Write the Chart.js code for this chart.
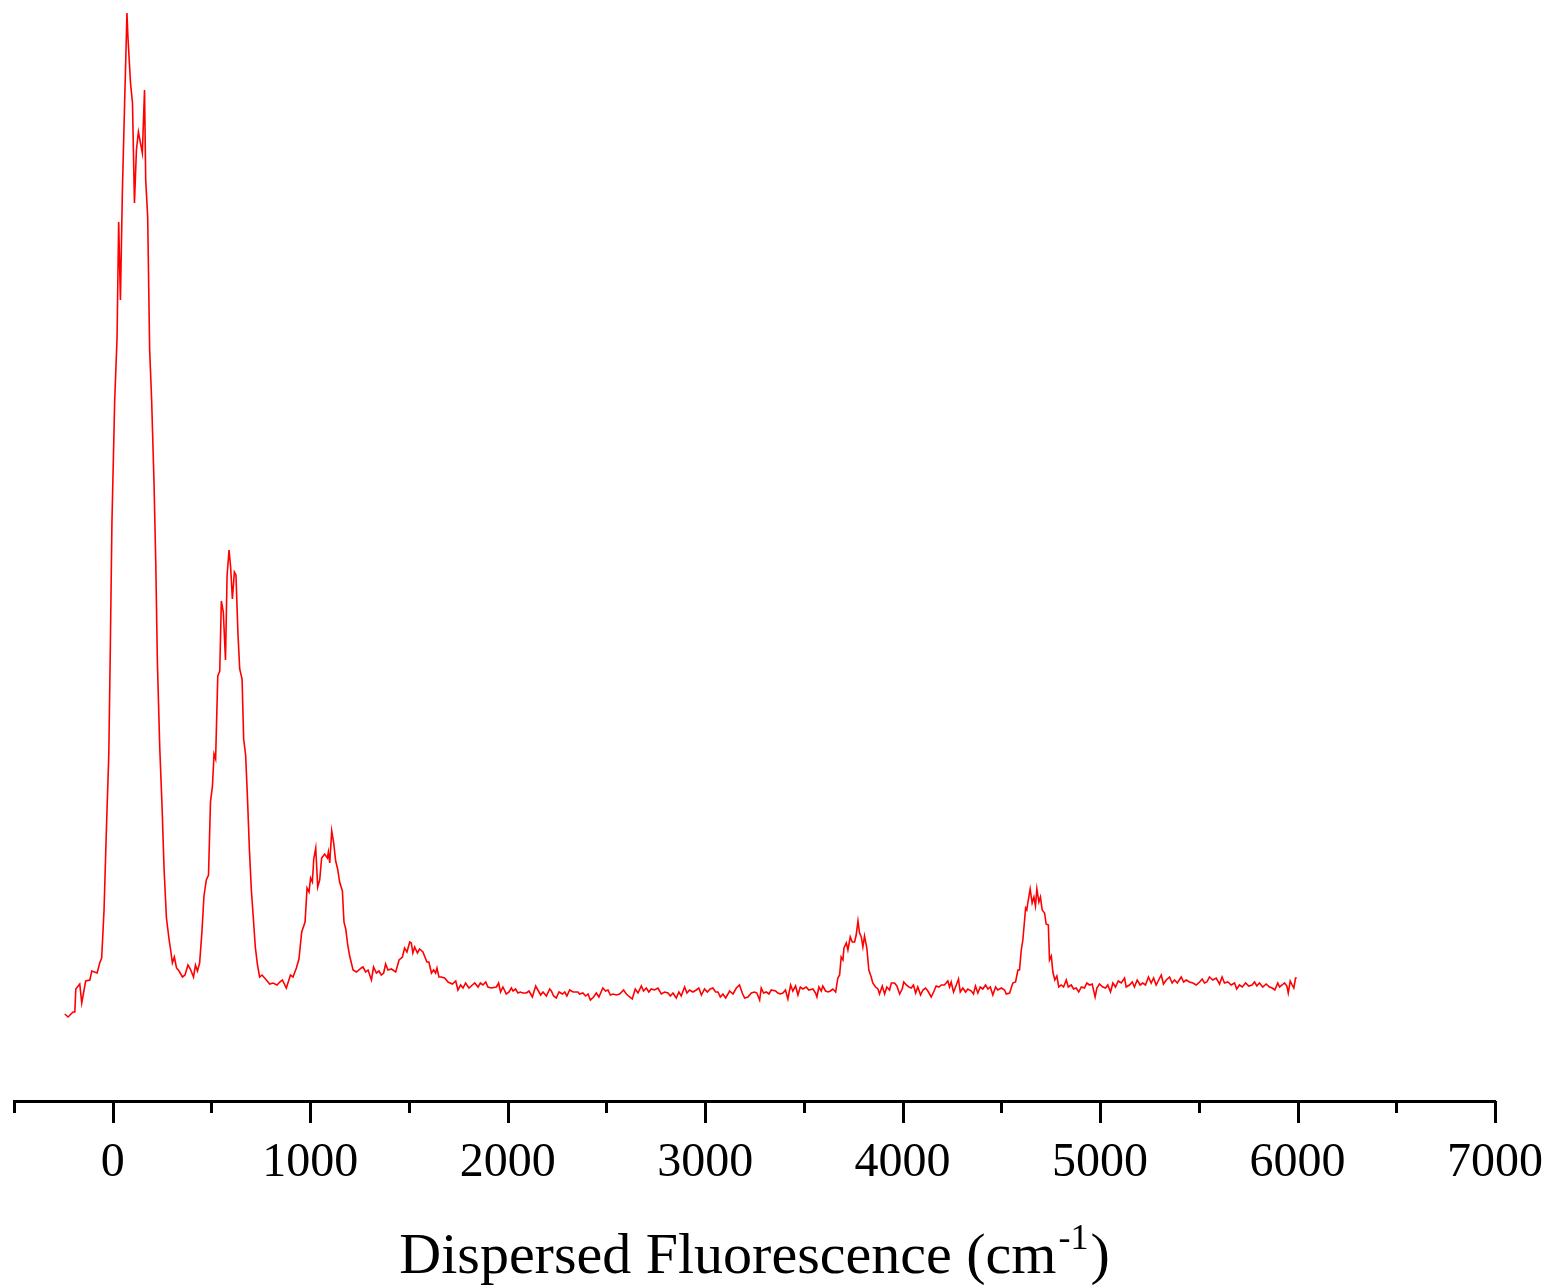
<!DOCTYPE html>
<html>
<head>
<meta charset="utf-8">
<script src="https://cdn.jsdelivr.net/npm/chart.js@4.4.1/dist/chart.umd.min.js"></script>
<style>
  html, body { margin: 0; padding: 0; background: #fff; }
  canvas { display: block; }
</style>
</head>
<body>
<canvas id="myChart" width="1551" height="1285"></canvas>
<script>
// wavenumber shift (cm-1) and fluorescence intensity (arb. units)
const wavenumber = [
  -243, -226, -201, -192, -187, -167, -157, -137, -116, -106, -79, -66, -56, -44, -32, -20, -12, -4,
  10, 22, 30, 39, 49, 61, 72, 77, 90, 100, 110, 120, 130, 150, 161, 167, 177, 187, 197,
  209, 218, 226, 238, 250, 260, 272, 285, 294, 302, 312, 323, 336, 353, 366, 381, 393, 409, 419, 429, 440,
  452, 462, 474, 485, 495, 505, 513, 521, 532, 542, 550, 560, 571, 579, 589, 597, 606, 616, 624, 634,
  643, 655, 663, 673, 682, 692, 702, 712, 722, 733, 744, 756, 778, 795, 812, 832, 846, 859, 879, 900,
  913, 930, 943, 957, 974, 984, 994,
  1002, 1011, 1018, 1028, 1038, 1048, 1058, 1073, 1087, 1092, 1099, 1109, 1119, 1129, 1139, 1149, 1163, 1171, 1180, 1190, 1200,
  1217, 1234, 1259, 1267, 1281, 1293, 1310, 1321, 1335, 1348, 1360, 1372, 1382, 1394, 1411, 1433, 1450, 1467, 1478, 1490,
  1504, 1512, 1520, 1529, 1543, 1554, 1571, 1591, 1601, 1614, 1625, 1635, 1642, 1652, 1664, 1681, 1698, 1720, 1737, 1748,
  1762, 1774, 1787, 1804, 1821, 1833, 1850, 1862, 1875, 1889, 1900, 1917, 1943, 1954, 1964, 1976, 1993,
  2007, 2019, 2027, 2040, 2052, 2064, 2077, 2095, 2108, 2125, 2142, 2153, 2167, 2179, 2196, 2213, 2221, 2233, 2246, 2260,
  2277, 2289, 2300, 2314, 2331, 2356, 2364, 2381, 2395, 2407, 2419, 2435, 2449, 2462, 2482, 2496, 2508, 2520, 2533, 2550,
  2567, 2587, 2601, 2618, 2631, 2646, 2660, 2677, 2688, 2702, 2715, 2727, 2744, 2761, 2778, 2795, 2812, 2824, 2837, 2854,
  2867, 2879, 2896, 2908, 2921, 2938, 2955, 2968, 2981, 2997,
  3011, 3026, 3039, 3053, 3065, 3077, 3090, 3104, 3124, 3141, 3158, 3174, 3188, 3200, 3217, 3234, 3250, 3262, 3276, 3284,
  3296, 3310, 3323, 3335, 3357, 3368, 3381, 3394, 3407, 3419, 3433, 3444, 3458, 3470, 3482, 3495, 3512, 3525, 3546, 3559,
  3566, 3576, 3588, 3596, 3610, 3622, 3634, 3647, 3661, 3672, 3681, 3689, 3698, 3703, 3715, 3723, 3735, 3745, 3757, 3765,
  3774, 3782, 3791, 3799, 3807, 3819, 3829, 3841, 3849, 3863, 3875, 3883, 3897, 3909, 3920, 3934, 3943, 3959, 3971, 3985,
  3998,
  4006, 4019, 4032, 4044, 4055, 4066, 4077, 4091, 4103, 4116, 4128, 4145, 4157, 4170, 4184, 4196, 4212, 4229, 4238, 4246,
  4258, 4272, 4283, 4292, 4305, 4319, 4330, 4348, 4359, 4369, 4381, 4393, 4406, 4420, 4432, 4444, 4457, 4471, 4482, 4500,
  4516, 4525, 4542, 4558, 4572, 4584, 4592, 4601, 4609, 4623, 4629, 4634, 4646, 4656, 4665, 4673, 4680, 4690, 4698, 4707,
  4719, 4727, 4738, 4744, 4753, 4761, 4771, 4781, 4791, 4803, 4815, 4829, 4839, 4854, 4866, 4879, 4892, 4905, 4921, 4933,
  4947, 4960, 4975, 4984, 4997,
  5014, 5028, 5039, 5053, 5065, 5078, 5092, 5107, 5124, 5132, 5149, 5163, 5174, 5188, 5203, 5216, 5230, 5245, 5259, 5271,
  5284, 5297, 5310, 5321, 5335, 5352, 5365, 5377, 5391, 5411, 5423, 5436, 5453, 5470, 5487, 5504, 5517, 5529, 5541, 5554,
  5571, 5588, 5605, 5618, 5630, 5647, 5664, 5681, 5692, 5706, 5720, 5737, 5753, 5770, 5782, 5794, 5807, 5824, 5841, 5858,
  5872, 5885, 5900, 5909, 5922, 5934, 5946, 5953, 5963, 5973, 5981, 5990, 5996
];

const intensity = [
  87, 84, 89, 89, 112, 117, 98, 120, 121, 130, 128, 138, 143, 191, 272, 346, 456, 579,
  701, 764, 879, 801, 911, 1004, 1088, 1064, 1018, 998, 898, 951, 969, 948, 1011, 921, 884, 751, 701,
  619, 538, 440, 354, 293, 232, 183, 162, 150, 138, 144, 133, 130, 124, 126, 136, 132, 124, 136, 130, 138,
  170, 205, 221, 226, 299, 315, 347, 342, 425, 430, 500, 489, 441, 525, 551, 534, 502, 529, 526, 468,
  432, 422, 362, 346, 305, 252, 211, 183, 154, 136, 124, 126, 121, 117, 118, 116, 119, 121, 113, 126,
  124, 133, 142, 169, 179, 213, 209,
  223, 219, 242, 253, 214, 221, 243, 247, 243, 249, 238, 270, 258, 240, 232, 219, 210, 179, 172, 156, 145,
  131, 129, 133, 134, 129, 131, 121, 134, 128, 130, 126, 128, 137, 131, 132, 129, 141, 144, 153, 149,
  159, 158, 148, 154, 148, 152, 149, 139, 139, 128, 131, 128, 133, 124, 124, 123, 119, 117, 120, 111,
  116, 113, 118, 113, 116, 118, 114, 118, 116, 119, 114, 113, 114, 118, 109, 114, 107,
  109, 113, 110, 112, 108, 109, 108, 108, 110, 104, 115, 111, 106, 109, 105, 112, 110, 105, 103, 109,
  107, 109, 105, 111, 109, 109, 107, 108, 105, 107, 101, 104, 108, 104, 113, 110, 111, 106, 107, 106,
  107, 111, 107, 104, 102, 112, 108, 115, 110, 113, 109, 112, 111, 113, 107, 109, 108, 105, 108, 103,
  109, 105, 114, 108, 111, 109, 111, 113, 106, 112,
  109, 112, 113, 109, 109, 104, 107, 103, 110, 107, 113, 116, 108, 103, 104, 108, 109, 108, 101, 113,
  108, 109, 107, 111, 110, 108, 107, 108, 111, 102, 116, 110, 115, 106, 114, 112, 114, 111, 112, 108,
  104, 114, 110, 115, 110, 109, 110, 112, 109, 123, 126, 144, 141, 153, 158, 151, 164, 159, 159, 166,
  180, 168, 164, 154, 165, 153, 131, 124, 118, 114, 112, 107, 115, 107, 114, 111, 118, 118, 115, 107,
  112,
  119, 116, 114, 113, 116, 108, 114, 106, 111, 113, 110, 104, 109, 115, 114, 116, 116, 120, 114, 119,
  109, 116, 122, 109, 113, 109, 112, 110, 107, 115, 108, 114, 112, 116, 112, 114, 106, 114, 111, 113,
  111, 107, 108, 118, 119, 131, 131, 151, 161, 193, 191, 198, 212, 198, 204, 195, 212, 199, 204, 191,
  188, 177, 176, 141, 145, 129, 121, 125, 114, 116, 114, 121, 114, 116, 112, 113, 109, 114, 113, 118,
  116, 117, 104, 113, 117,
  114, 113, 116, 109, 118, 114, 120, 118, 123, 114, 116, 119, 114, 121, 116, 118, 116, 124, 118, 123,
  116, 121, 126, 117, 121, 124, 118, 121, 118, 124, 119, 121, 119, 118, 116, 119, 122, 118, 119, 124,
  121, 123, 117, 124, 118, 119, 116, 118, 112, 116, 114, 118, 115, 116, 119, 115, 118, 114, 117, 114,
  113, 111, 118, 114, 116, 118, 115, 108, 120, 116, 113, 123, 123
];

const xTickValues = [-500, 0, 500, 1000, 1500, 2000, 2500, 3000, 3500, 4000, 4500, 5000, 5500, 6000, 6500, 7000];
const axisTitle = "Dispersed Fluorescence (cm";
const axisTitleSup = "-1";
const axisTitleEnd = ")";

const serif = '"Liberation Serif", "Times New Roman", serif';

// tick marks (long at labelled values, short in between) and the axis title with superscript
const axisDecor = {
  id: "axisDecor",
  afterDraw(chart) {
    const ctx = chart.ctx;
    const xs = chart.scales.x;
    ctx.save();
    ctx.strokeStyle = "#000";
    ctx.lineWidth = 3;
    xTickValues.forEach((v) => {
      const px = Math.round(xs.getPixelForValue(v)) + 0.5;
      const len = v % 1000 === 0 ? 22 : 12;
      ctx.beginPath();
      ctx.moveTo(px, xs.top);
      ctx.lineTo(px, xs.top + len);
      ctx.stroke();
    });

    ctx.fillStyle = "#000";
    ctx.textBaseline = "alphabetic";
    ctx.textAlign = "left";
    const bigFont = "58px " + serif;
    const supFont = "36px " + serif;
    ctx.font = bigFont;
    const w1 = ctx.measureText(axisTitle).width;
    const w3 = ctx.measureText(axisTitleEnd).width;
    ctx.font = supFont;
    const w2 = ctx.measureText(axisTitleSup).width;
    const total = w1 + w2 + w3 + 4;
    const cx = (chart.chartArea.left + chart.chartArea.right) / 2;
    let x = cx - total / 2;
    const base = 1273;
    ctx.font = bigFont;
    ctx.fillText(axisTitle, x, base);
    x += w1 + 2;
    ctx.font = supFont;
    ctx.fillText(axisTitleSup, x, base - 24);
    x += w2 + 2;
    ctx.font = bigFont;
    ctx.fillText(axisTitleEnd, x, base);
    ctx.restore();
  },
};

const chart = new Chart(document.getElementById("myChart").getContext("2d"), {
  type: "line",
  data: {
    datasets: [
      {
        label: "Dispersed Fluorescence",
        data: wavenumber.map((w, i) => ({ x: w, y: intensity[i] })),
        borderColor: "#ff0000",
        borderWidth: 1.6,
        pointRadius: 0,
        tension: 0,
        fill: false,
      },
    ],
  },
  options: {
    responsive: false,
    animation: false,
    devicePixelRatio: 1,
    layout: {
      padding: { left: 14, right: 56, top: 1, bottom: 0 },
    },
    plugins: {
      legend: { display: false },
      tooltip: { enabled: false },
    },
    scales: {
      x: {
        type: "linear",
        min: -500,
        max: 7000,
        afterFit: (scale) => {
          scale.height = 184;
          scale.paddingLeft = 0;
          scale.paddingRight = 0;
        },
        afterBuildTicks: (scale) => {
          scale.ticks = xTickValues.map((v) => ({ value: v }));
        },
        grid: {
          display: true,
          drawOnChartArea: false,
          drawTicks: true,
          tickLength: 22,
          tickColor: "rgba(0,0,0,0)",
        },
        border: { display: true, color: "#000", width: 3 },
        ticks: {
          autoSkip: false,
          maxRotation: 0,
          padding: 12,
          color: "#000",
          font: { family: serif, size: 48 },
          callback: (value) => (value % 1000 === 0 ? String(value) : ""),
        },
      },
      y: {
        display: false,
        min: 0,
        max: 1100,
      },
    },
  },
  plugins: [axisDecor],
});
</script>
</body>
</html>
